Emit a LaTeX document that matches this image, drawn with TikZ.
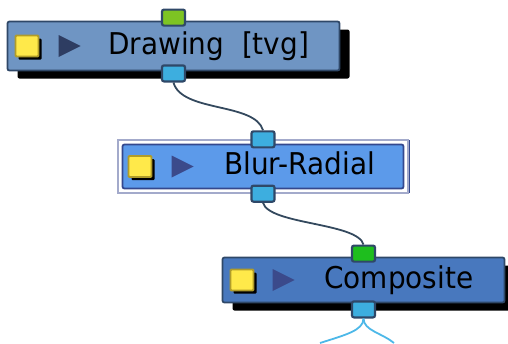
\documentclass[tikz,border=0pt]{standalone}
\usepackage{fontspec}
\setmainfont{DejaVu Sans}[FakeStretch=0.93]
\usetikzlibrary{shapes.geometric,positioning,shadows,fit,backgrounds}
\definecolor{drwfill}{HTML}{6F95C3}
\definecolor{blrfill}{HTML}{5C9AEA}
\definecolor{cmpfill}{HTML}{4878BE}
\definecolor{edge}{HTML}{2F4868}
\definecolor{blredge}{HTML}{34488E}
\definecolor{portblue}{HTML}{3DAEDF}
\definecolor{portlime}{HTML}{7DC423}
\definecolor{portgreen}{HTML}{1EBE1E}
\definecolor{sqyellow}{HTML}{FFE94A}
\definecolor{sqedge}{HTML}{B09C2A}
\definecolor{tridark}{HTML}{2E3D62}
\definecolor{trinavy}{HTML}{3B4A8B}
\definecolor{wirecol}{HTML}{34495E}
\definecolor{cyanwire}{HTML}{4DB8E8}
\definecolor{selframe}{HTML}{A3AACB}

\begin{document}
\begin{tikzpicture}[x=1pt,y=-1pt,
  nodebox/.style={rectangle,rounded corners=2pt,line width=1.8pt,draw=edge,inner sep=0pt},
  blackshadow/.style={drop shadow={shadow xshift=10pt,shadow yshift=-8pt,fill=black,opacity=1}},
  port/.style={rectangle,rounded corners=2pt,line width=2.2pt,draw=edge,minimum width=23pt,minimum height=16pt,inner sep=0pt},
  enable/.style={rectangle,rounded corners=1pt,line width=1.8pt,draw=sqedge,fill=sqyellow,minimum width=23pt,minimum height=21pt,inner sep=0pt,
    drop shadow={shadow xshift=3pt,shadow yshift=-3pt,fill=black,opacity=1}},
  play/.style={isosceles triangle,isosceles triangle stretches,minimum width=22pt,minimum height=22pt,inner sep=0pt,fill=trinavy},
  lbl/.style={font=\fontsize{30}{35}\selectfont,inner sep=0pt,text height=22pt,text depth=6pt},
  wire/.style={line width=1.8pt,wirecol},
  outwire/.style={line width=1.8pt,cyanwire}]

  \useasboundingbox (0,0) rectangle (508,343);

  % drawing node
  \node[nodebox,blackshadow,fill=drwfill,minimum width=332pt,minimum height=49pt] (drw) at (173.5,46) {};
  \node[enable,right=8pt of drw.west] (drw-en) {};
  \node[play,fill=tridark,right=19pt of drw-en] (drw-pl) {};
  \node[lbl,right=27pt of drw-pl] (drw-lb) {Drawing\ \ [tvg]};
  \node[port,fill=portlime,yshift=3pt] (drw-in) at (drw.north) {};
  \node[port,fill=portblue,yshift=-2pt] (drw-out) at (drw.south) {};

  % blur node (selected)
  \node[nodebox,fill=blrfill,draw=blredge,minimum width=281pt,minimum height=44pt] (blr) at (263,166.5) {};
  \begin{scope}[on background layer]
    \node[draw=selframe,line width=1.5pt,fill=white,fit=(blr),inner sep=3.5pt,
      drop shadow={shadow xshift=2pt,shadow yshift=0pt,fill=blredge,opacity=1}] (blr-sel) {};
  \end{scope}
  \node[enable,right=6pt of blr.west] (blr-en) {};
  \node[play,right=19pt of blr-en] (blr-pl) {};
  \node[lbl,right=30pt of blr-pl] (blr-lb) {Blur-Radial};
  \node[port,fill=portblue] (blr-in) at (blr-sel.north) {};
  \node[port,fill=portblue] (blr-out) at (blr-sel.south) {};

  % composite node
  \node[nodebox,blackshadow,fill=cmpfill,minimum width=282pt,minimum height=45pt] (cmp) at (363.5,280) {};
  \node[enable,right=8pt of cmp.west] (cmp-en) {};
  \node[play,right=18pt of cmp-en] (cmp-pl) {};
  \node[lbl,right=29pt of cmp-pl] (cmp-lb) {Composite};
  \node[port,fill=portgreen,yshift=3pt] (cmp-in) at (cmp.north) {};
  \node[port,fill=portblue,yshift=-6pt] (cmp-out) at (cmp.south) {};

  % links
  \draw[wire] (drw-out.south) .. controls +(8,30) and +(-8,-28) .. (blr-in.north);
  \draw[wire] (blr-out.south) .. controls +(6,22) and +(-6,-22) .. (cmp-in.north);

  % outputs
  \coordinate (out-l) at (320,343);
  \coordinate (out-r) at (394,343);
  \draw[outwire] (cmp-out.south) .. controls +(0,12) and +(25,-8) .. (out-l);
  \draw[outwire] (cmp-out.south) .. controls +(0,12) and +(-12,-10) .. (out-r);
\end{tikzpicture}
\end{document}
